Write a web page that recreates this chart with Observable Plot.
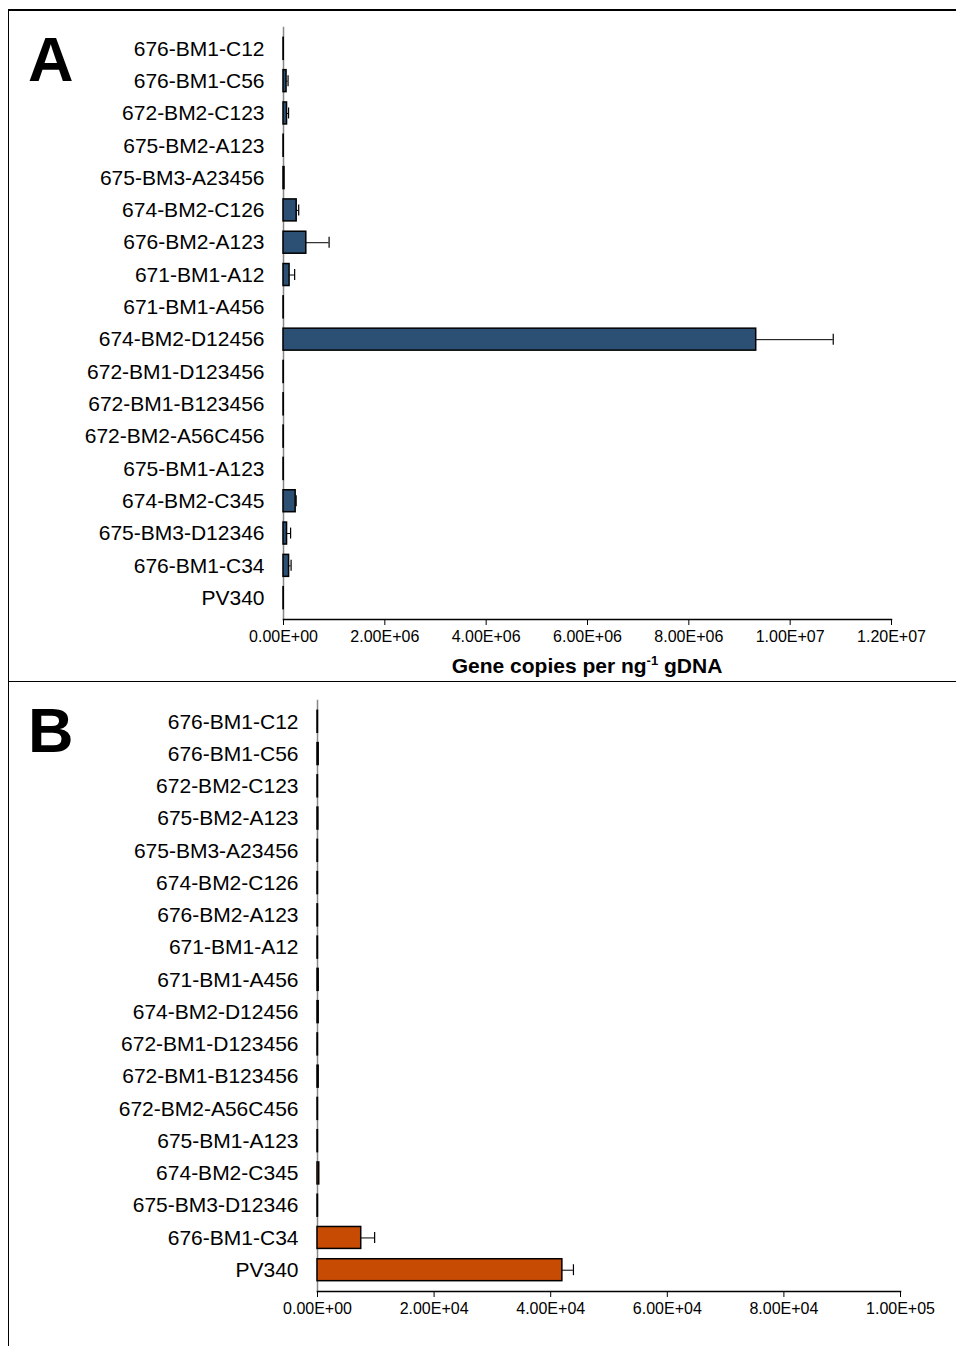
<!DOCTYPE html>
<html>
<head>
<meta charset="utf-8">
<script src="https://cdn.jsdelivr.net/npm/d3@7"></script>
<script src="https://cdn.jsdelivr.net/npm/@observablehq/plot@0.6"></script>
<style>
  html, body { margin: 0; padding: 0; background: #fff; }
  #wrap { position: relative; width: 956px; height: 1346px; overflow: hidden; font-family: "Liberation Sans", Arial, sans-serif; }
  .panel { position: absolute; left: 0; width: 956px; }
  .line { position: absolute; background: #000; }
  .letter { position: absolute; font-weight: bold; font-size: 63px; line-height: 1; }
  .xtitle { position: absolute; font-weight: bold; font-size: 21px; white-space: nowrap; transform: translateX(-50%); }
  .xtitle sup { font-size: 13px; vertical-align: 8px; line-height: 0; }
</style>
</head>
<body>
<div id="wrap">
  <div class="panel" id="pA" style="top:0px"></div>
  <div class="panel" id="pB" style="top:681px"></div>
  <div class="line" style="left:8px; top:9px; width:948px; height:1.5px"></div>
  <div class="line" style="left:8px; top:680.5px; width:948px; height:1.5px"></div>
  <div class="line" style="left:7.5px; top:9px; width:1.5px; height:1337px"></div>
  <div class="letter" style="left:28px; top:28px">A</div>
  <div class="letter" style="left:28px; top:699px">B</div>
  <div class="xtitle" style="left:587px; top:654px">Gene copies per ng<sup>-1</sup> gDNA</div>
</div>
<script>
const categories = [
  "676-BM1-C12", "676-BM1-C56", "672-BM2-C123", "675-BM2-A123", "675-BM3-A23456",
  "674-BM2-C126", "676-BM2-A123", "671-BM1-A12", "671-BM1-A456", "674-BM2-D12456",
  "672-BM1-D123456", "672-BM1-B123456", "672-BM2-A56C456", "675-BM1-A123",
  "674-BM2-C345", "675-BM3-D12346", "676-BM1-C34", "PV340"
];
// Panel A values and standard errors (gene copies per ng gDNA)
const valuesA = [5000, 60000, 70000, 5000, 20000, 260000, 450000, 120000, 5000, 9330000,
  5000, 5000, 5000, 5000, 240000, 70000, 110000, 5000];
const errorsA = [0, 30000, 30000, 0, 0, 40000, 450000, 100000, 0, 1520000,
  0, 0, 0, 0, 10000, 70000, 40000, 0];
// Panel B values and standard errors
const valuesB = [80, 200, 80, 150, 80, 80, 80, 80, 200, 200,
  80, 200, 80, 80, 300, 80, 7500, 42000];
const errorsB = [0, 0, 0, 0, 0, 0, 0, 0, 0, 0,
  0, 0, 0, 0, 0, 0, 2300, 1900];
const ticksA = [0, 2e6, 4e6, 6e6, 8e6, 1e7, 1.2e7];
const ticksB = [0, 2e4, 4e4, 6e4, 8e4, 1e5];

function sci(d) {
  if (d === 0) return "0.00E+00";
  const e = Math.floor(Math.log10(d) + 1e-9);
  const m = d / Math.pow(10, e);
  return m.toFixed(2) + "E+" + String(e).padStart(2, "0");
}

function panel({values, errors, ticks, domain, color, height, marginTop, marginBottom, marginLeft, marginRight}) {
  const data = categories.map((c, i) => ({cat: c, v: values[i], e: errors[i], hi: values[i] + errors[i]}));
  const withErr = data.filter(d => d.e > 0);
  return Plot.plot({
    width: 956,
    height,
    marginTop, marginBottom, marginLeft, marginRight,
    style: {fontFamily: "'Liberation Sans', Arial, sans-serif", background: "transparent"},
    x: {domain, ticks, tickFormat: sci},
    y: {domain: categories, padding: 0.32, round: false},
    marks: [
      Plot.frame({anchor: "left", stroke: "#888", strokeWidth: 1.5}),
      Plot.barX(data, {x: "v", y: "cat", fill: color, stroke: "#000", strokeWidth: 1.5}),
      Plot.ruleY(withErr, {x1: "v", x2: "hi", y: "cat", stroke: "#000", strokeWidth: 1}),
      Plot.tickX(withErr, {x: "hi", y: "cat", stroke: "#000", strokeWidth: 1.2, inset: 5.5}),
      Plot.frame({anchor: "bottom", stroke: "#000", strokeWidth: 1.5}),
      Plot.axisX({ticks, tickFormat: sci, tickSize: 6, tickPadding: 5, fontSize: 16, label: null, stroke: "#000"}),
      Plot.axisY({tickSize: 0, tickPadding: 19, fontSize: 21, label: null})
    ]
  });
}

const plotA = panel({
  values: valuesA, errors: errorsA, ticks: ticksA, domain: [0, 1.2e7], color: "#2C4F74",
  height: 680, marginTop: 27, marginBottom: 61, marginLeft: 283, marginRight: 65
});
document.getElementById("pA").appendChild(plotA);

const plotB = panel({
  values: valuesB, errors: errorsB, ticks: ticksB, domain: [0, 1e5], color: "#C84B04",
  height: 665, marginTop: 19, marginBottom: 55, marginLeft: 317, marginRight: 56
});
document.getElementById("pB").appendChild(plotB);
</script>
</body>
</html>
